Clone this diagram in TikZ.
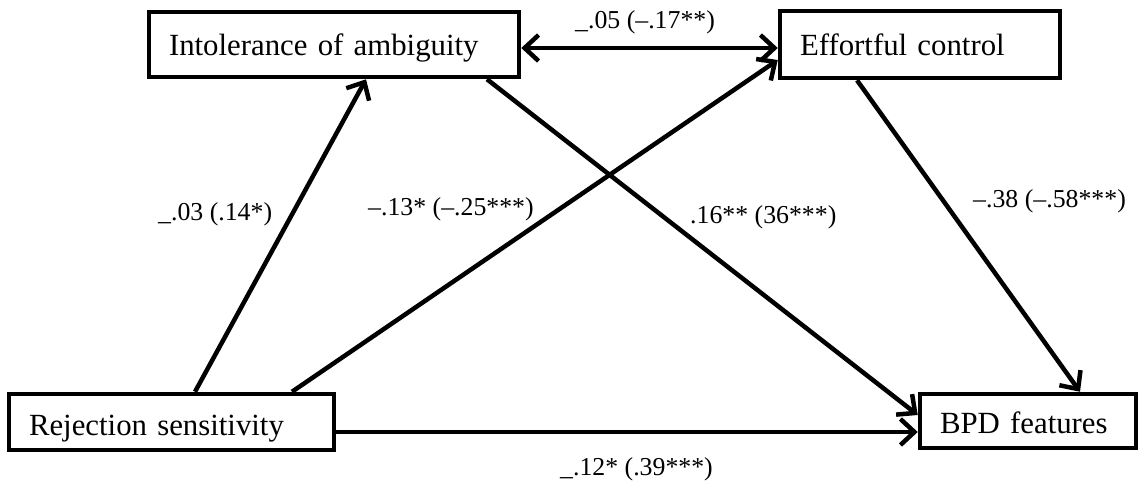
\documentclass[tikz,border=0pt]{standalone}
\usepackage{fontspec}
\setmainfont{Liberation Serif}
\usetikzlibrary{arrows.meta}
\begin{document}
\begin{tikzpicture}[x=1pt,y=-1pt,
  box/.style={draw, line width=4.5pt, inner xsep=20pt, inner ysep=0pt, align=left,
    font=\fontsize{30.8}{36}\selectfont, text depth=5pt},
  conn/.style={line width=4.5pt, -{Straight Barb[length=14pt,width=26pt]}},
  biconn/.style={line width=4.5pt, {Straight Barb[length=14pt,width=26pt]}-{Straight Barb[length=14pt,width=26pt]}},
  lbl/.style={anchor=base west, inner sep=0pt, font=\fontsize{25.8}{30}\selectfont}]
\useasboundingbox (0,0) rectangle (1146,482);
\node[box, text width=330pt, minimum height=65pt, text height=26pt] (IA) at (334,44.5) {Intolerance of ambiguity};
\node[box, text width=240pt, minimum height=67pt, text height=26pt] (EC) at (920,44.5) {Effortful control};
\node[box, text width=285pt, minimum height=56pt, text height=32pt] (RS) at (171.5,422) {Rejection sensitivity};
\node[box, text width=176pt, minimum height=54pt, text height=29pt] (BPD) at (1028,421) {BPD features};
\draw[biconn] ([yshift=-3.5pt]IA.east) -- ([yshift=-3.5pt]EC.west);
\draw[conn] ([xshift=23.5pt]RS.north) -- ([xshift=32pt]IA.south);
\draw[conn] ([xshift=120.5pt]RS.north) -- ([yshift=-15.5pt]EC.west);
\draw[conn] ([xshift=153pt]IA.south) -- ([yshift=6pt]BPD.west);
\draw[conn] ([xshift=-63pt]EC.south) -- ([xshift=52pt]BPD.north);
\draw[conn] ([yshift=-10pt]RS.east) -- ([yshift=-11pt]BPD.west);
\node[lbl] (l1) at (575,28) {\_.05 (–.17**)};
\node[lbl] (l2) at (158,220) {\_.03 (.14*)};
\node[lbl] (l3) at (368,215) {–.13* (–.25***)};
\node[lbl] (l4) at (690,223) {.16** (36***)};
\node[lbl] (l5) at (973,207) {–.38 (–.58***)};
\node[lbl] (l6) at (560,475) {\_.12* (.39***)};
\end{tikzpicture}
\end{document}
